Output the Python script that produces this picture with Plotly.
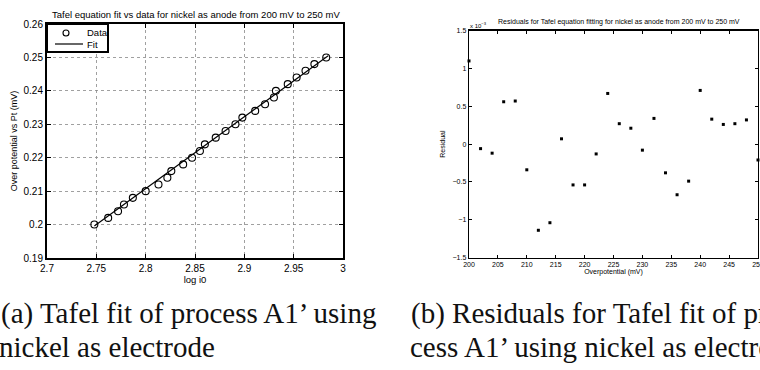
import plotly.graph_objects as go

# ---- data: left panel (Tafel fit) ----
log_i0 = [2.748, 2.762, 2.772, 2.778, 2.787, 2.800, 2.813, 2.822, 2.826, 2.838,
          2.847, 2.855, 2.860, 2.871, 2.881, 2.891, 2.898, 2.911, 2.921, 2.930,
          2.932, 2.944, 2.953, 2.962, 2.971, 2.983]
overpot_V = [0.200, 0.202, 0.204, 0.206, 0.208, 0.210, 0.212, 0.214, 0.216, 0.218,
             0.220, 0.222, 0.224, 0.226, 0.228, 0.230, 0.232, 0.234, 0.236, 0.238,
             0.240, 0.242, 0.244, 0.246, 0.248, 0.250]
fit_x = [2.748, 2.985]
fit_y = [0.1996, 0.2505]

# ---- data: right panel (residuals, in units of 1e-3) ----
overpot_mV = [200, 202, 204, 206, 208, 210, 212, 214, 216, 218, 220, 222, 224,
              226, 228, 230, 232, 234, 236, 238, 240, 242, 244, 246, 248, 250]
residual_e3 = [1.10, -0.06, -0.12, 0.56, 0.57, -0.34, -1.14, -1.04, 0.07, -0.54,
               -0.54, -0.13, 0.67, 0.27, 0.21, -0.08, 0.34, -0.38, -0.67, -0.49,
               0.71, 0.33, 0.26, 0.27, 0.32, -0.21]

left_xticks = [2.7, 2.75, 2.8, 2.85, 2.9, 2.95, 3]
left_xticklabels = ["2.7", "2.75", "2.8", "2.85", "2.9", "2.95", "3"]
left_yticks = [0.19, 0.20, 0.21, 0.22, 0.23, 0.24, 0.25, 0.26]
left_yticklabels = ["0.19", "0.2", "0.21", "0.22", "0.23", "0.24", "0.25", "0.26"]
right_xticks = [200, 205, 210, 215, 220, 225, 230, 235, 240, 245, 250]
right_yticks = [-1.5, -1, -0.5, 0, 0.5, 1, 1.5]
right_yticklabels = ["\u22121.5", "\u22121", "\u22120.5", "0", "0.5", "1", "1.5"]
legend_labels = ["Data", "Fit"]

W, H = 760, 370
SANS = "Liberation Sans, Arial, sans-serif"
SERIF = "Liberation Serif, DejaVu Serif, serif"

def px_x(p):
    return p / W

def px_y(p):
    return 1 - p / H

fig = go.Figure()

fig.add_trace(go.Scatter(
    x=log_i0, y=overpot_V, mode="markers", name=legend_labels[0],
    marker=dict(symbol="circle-open", size=7, color="black", line=dict(width=1.1, color="black")),
    xaxis="x", yaxis="y", cliponaxis=False, showlegend=False))
fig.add_trace(go.Scatter(
    x=fit_x, y=fit_y, mode="lines", name=legend_labels[1],
    line=dict(color="black", width=1.2), xaxis="x", yaxis="y", showlegend=False))

fig.add_trace(go.Scatter(
    x=overpot_mV, y=residual_e3, mode="markers", showlegend=False,
    marker=dict(symbol="square", size=3, color="black"),
    xaxis="x2", yaxis="y2", cliponaxis=False))

left_axis_common = dict(showline=True, linecolor="black", linewidth=2, mirror="ticks",
                        ticks="inside", ticklen=4, tickcolor="black", tickwidth=1,
                        showgrid=True, gridcolor="#888", griddash="dot", gridwidth=0.8,
                        zeroline=False, automargin=False,
                        tickfont=dict(family=SANS, size=10, color="black"))

fig.update_layout(
    width=W, height=H, margin=dict(l=0, r=0, t=0, b=0),
    paper_bgcolor="white", plot_bgcolor="white", showlegend=False,
    xaxis=dict(domain=[px_x(47), px_x(343)], range=[2.7, 3.0],
               tickvals=left_xticks, ticktext=left_xticklabels,
               title=dict(text="log i0", font=dict(family=SANS, size=9.5, color="black"), standoff=2),
               anchor="y", **left_axis_common),
    yaxis=dict(domain=[px_y(258), px_y(24)], range=[0.19, 0.26],
               tickvals=left_yticks, ticktext=left_yticklabels,
               title=dict(text="Over potential vs Pt (mV)", font=dict(family=SANS, size=9, color="black"), standoff=4),
               anchor="x", **left_axis_common),
    xaxis2=dict(domain=[px_x(469), px_x(758)], range=[200, 250],
                tickvals=right_xticks, ticklabeloverflow="allow",
                showline=True, linecolor="black", linewidth=1.3, mirror="ticks",
                ticks="inside", ticklen=3, tickcolor="black", showgrid=False, zeroline=False,
                automargin=False, tickfont=dict(family=SANS, size=7, color="black"),
                title=dict(text="Overpotential (mV)", font=dict(family=SANS, size=7, color="black"), standoff=2),
                anchor="y2"),
    yaxis2=dict(domain=[px_y(257.5), px_y(30.7)], range=[-1.5, 1.5],
                tickvals=right_yticks, ticktext=right_yticklabels,
                showline=True, linecolor="black", linewidth=1.3, mirror="ticks",
                ticks="inside", ticklen=3, tickcolor="black", showgrid=False, zeroline=False,
                automargin=False, tickfont=dict(family=SANS, size=7, color="black"),
                title=dict(text="Residual", font=dict(family=SANS, size=7, color="black"), standoff=6),
                anchor="x2"),
)

# legend box (drawn in paper space, like MATLAB's legend)
shapes = [
    dict(type="rect", xref="paper", yref="paper", x0=px_x(47), x1=px_x(108), y0=px_y(52), y1=px_y(24),
         line=dict(color="black", width=2), fillcolor="white", layer="above"),
    dict(type="circle", xref="paper", yref="paper", x0=px_x(63), x1=px_x(69), y0=px_y(36), y1=px_y(30),
         line=dict(color="black", width=1.1), layer="above"),
    dict(type="line", xref="paper", yref="paper", x0=px_x(55), x1=px_x(83), y0=px_y(44), y1=px_y(44),
         line=dict(color="black", width=1.2), layer="above"),
]
fig.update_layout(shapes=shapes)

cap_font = dict(family=SERIF, size=29, color="#111")
annotations = [
    dict(text=legend_labels[0], x=px_x(85), y=px_y(33), xref="paper", yref="paper", showarrow=False,
         font=dict(family=SANS, size=9.5, color="black"), xanchor="left", yanchor="middle"),
    dict(text=legend_labels[1], x=px_x(85), y=px_y(44.5), xref="paper", yref="paper", showarrow=False,
         font=dict(family=SANS, size=9.5, color="black"), xanchor="left", yanchor="middle"),
    dict(text="Tafel equation fit vs data for nickel as anode from 200 mV to 250 mV",
         x=px_x(196), y=px_y(14), xref="paper", yref="paper", showarrow=False,
         font=dict(family=SANS, size=9.5, color="black"), xanchor="center", yanchor="middle"),
    dict(text="Residuals for Tafel equation fitting for nickel as anode from 200 mV to 250 mV",
         x=px_x(619), y=px_y(22), xref="paper", yref="paper", showarrow=False,
         font=dict(family=SANS, size=7, color="black"), xanchor="center", yanchor="middle"),
    dict(text="x 10<sup>\u22123</sup>",
         x=px_x(468), y=px_y(25), xref="paper", yref="paper", showarrow=False,
         font=dict(family=SANS, size=6, color="black"), xanchor="left", yanchor="middle"),
    dict(text="(a) Tafel fit of process A1\u2019 using",
         x=px_x(-1), y=px_y(313), xref="paper", yref="paper", showarrow=False,
         font=cap_font, xanchor="left", yanchor="middle"),
    dict(text="nickel as electrode",
         x=px_x(-3), y=px_y(347), xref="paper", yref="paper", showarrow=False,
         font=cap_font, xanchor="left", yanchor="middle"),
    dict(text="(b) Residuals for Tafel fit of pro-",
         x=px_x(409), y=px_y(313), xref="paper", yref="paper", showarrow=False,
         font=cap_font, xanchor="left", yanchor="middle"),
    dict(text="cess A1\u2019 using nickel as electrode",
         x=px_x(408), y=px_y(347), xref="paper", yref="paper", showarrow=False,
         font=cap_font, xanchor="left", yanchor="middle"),
]
fig.update_layout(annotations=annotations)

fig.write_html("out.html",
               config={"displayModeBar": False, "staticPlot": True},
               post_script="document.body.style.margin='0px';document.body.style.overflow='hidden';")
